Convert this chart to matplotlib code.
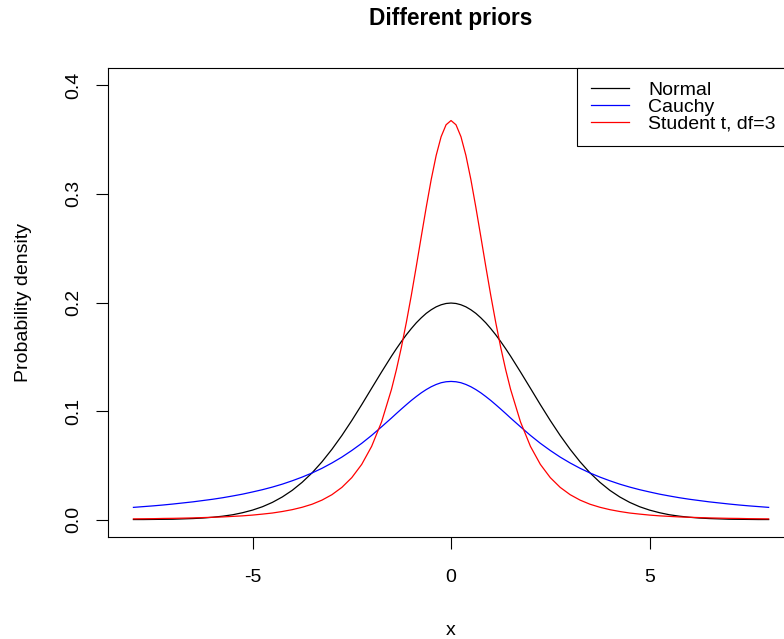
#----------Different priors----------
#Normal, Cauchy and Student t densities

import matplotlib.pyplot as plt

plt.rcParams['font.family'] = ['Liberation Sans', 'DejaVu Sans']

FontSize = 14
TitleSize = 16.3
LineWidth = 0.9

#x points: steps of 0.25 in the tails, 0.125 around the peak
X = [-8, -7.75, -7.5, -7.25, -7, -6.75, -6.5, -6.25, -6, -5.75, -5.5, -5.25,
     -5, -4.75, -4.5, -4.25, -4, -3.75, -3.5, -3.25, -3, -2.75, -2.5, -2.25,
     -2, -1.75, -1.5,
     -1.375, -1.25, -1.125, -1, -0.875, -0.75, -0.625, -0.5, -0.375, -0.25,
     -0.125, 0, 0.125, 0.25, 0.375, 0.5, 0.625, 0.75, 0.875, 1, 1.125, 1.25,
     1.375,
     1.5, 1.75, 2, 2.25, 2.5, 2.75, 3, 3.25, 3.5, 3.75, 4, 4.25, 4.5, 4.75,
     5, 5.25, 5.5, 5.75, 6, 6.25, 6.5, 6.75, 7, 7.25, 7.5, 7.75, 8]

Normal = [0.0001, 0.0001, 0.0002, 0.0003, 0.0004, 0.0007, 0.0010, 0.0015,
          0.0022, 0.0032, 0.0045, 0.0064, 0.0088, 0.0119, 0.0159, 0.0209,
          0.0270, 0.0344, 0.0431, 0.0533, 0.0648, 0.0775, 0.0913, 0.1059,
          0.1210, 0.1360, 0.1506,
          0.1575, 0.1641, 0.1703, 0.1760, 0.1813, 0.1859, 0.1900, 0.1933,
          0.1960, 0.1979, 0.1991, 0.1995, 0.1991, 0.1979, 0.1960, 0.1933,
          0.1900, 0.1859, 0.1813, 0.1760, 0.1703, 0.1641, 0.1575,
          0.1506, 0.1360, 0.1210, 0.1059, 0.0913, 0.0775, 0.0648, 0.0533,
          0.0431, 0.0344, 0.0270, 0.0209, 0.0159, 0.0119, 0.0088, 0.0064,
          0.0045, 0.0032, 0.0022, 0.0015, 0.0010, 0.0007, 0.0004, 0.0003,
          0.0002, 0.0001, 0.0001]

Cauchy = [0.0113, 0.0120, 0.0127, 0.0135, 0.0144, 0.0154, 0.0164, 0.0176,
          0.0188, 0.0202, 0.0218, 0.0235, 0.0255, 0.0276, 0.0300, 0.0327,
          0.0358, 0.0392, 0.0430, 0.0473, 0.0522, 0.0576, 0.0637, 0.0703,
          0.0776, 0.0855, 0.0936,
          0.0978, 0.1019, 0.1059, 0.1098, 0.1134, 0.1168, 0.1198, 0.1224,
          0.1245, 0.1261, 0.1270, 0.1273, 0.1270, 0.1261, 0.1245, 0.1224,
          0.1198, 0.1168, 0.1134, 0.1098, 0.1059, 0.1019, 0.0978,
          0.0936, 0.0855, 0.0776, 0.0703, 0.0637, 0.0576, 0.0522, 0.0473,
          0.0430, 0.0392, 0.0358, 0.0327, 0.0300, 0.0276, 0.0255, 0.0235,
          0.0218, 0.0202, 0.0188, 0.0176, 0.0164, 0.0154, 0.0144, 0.0135,
          0.0127, 0.0120, 0.0113]

StudentT = [0.0007, 0.0008, 0.0009, 0.0011, 0.0012, 0.0014, 0.0016, 0.0019,
            0.0022, 0.0025, 0.0030, 0.0035, 0.0042, 0.0051, 0.0061, 0.0075,
            0.0092, 0.0114, 0.0142, 0.0180, 0.0230, 0.0297, 0.0387, 0.0509,
            0.0675, 0.0900, 0.1200,
            0.1383, 0.1589, 0.1818, 0.2067, 0.2333, 0.2607, 0.2877, 0.3132,
            0.3354, 0.3527, 0.3637, 0.3676, 0.3637, 0.3527, 0.3354, 0.3132,
            0.2877, 0.2607, 0.2333, 0.2067, 0.1818, 0.1589, 0.1383,
            0.1200, 0.0900, 0.0675, 0.0509, 0.0387, 0.0297, 0.0230, 0.0180,
            0.0142, 0.0114, 0.0092, 0.0075, 0.0061, 0.0051, 0.0042, 0.0035,
            0.0030, 0.0025, 0.0022, 0.0019, 0.0016, 0.0014, 0.0012, 0.0011,
            0.0009, 0.0008, 0.0007]

XTicks = [-5, 0, 5]
YTicks = [0.0, 0.1, 0.2, 0.3, 0.4]
YTickLabels = ["0.0", "0.1", "0.2", "0.3", "0.4"]

fig = plt.figure(figsize=(7.84, 6.39), dpi=100)
#R-style box, right edge falls just outside the picture
ax = fig.add_axes([0.1378, 0.1596, 0.875, 0.734])

ax.plot(X, Normal, color="black", lw=LineWidth, label="Normal")
ax.plot(X, Cauchy, color="blue", lw=LineWidth, label="Cauchy")
ax.plot(X, StudentT, color="red", lw=LineWidth, label="Student t, df=3")

ax.set_xlim(-8.64, 8.64)
ax.set_ylim(-0.016, 0.416)
ax.set_xticks(XTicks)
ax.set_xticklabels([str(t) for t in XTicks])
ax.set_yticks(YTicks)
ax.set_yticklabels(YTickLabels, rotation=90, va="center")
ax.tick_params(length=8.5, width=0.8, labelsize=FontSize)
ax.tick_params(axis="x", pad=14.5)
ax.tick_params(axis="y", pad=10)
for s in ax.spines.values():
    s.set_linewidth(0.8)

ax.set_title("Different priors", fontsize=TitleSize, fontweight="bold", pad=31)
ax.set_xlabel("x", fontsize=FontSize, labelpad=26)
ax.set_ylabel("Probability density", fontsize=FontSize, labelpad=24)

leg = ax.legend(loc="upper right", bbox_to_anchor=(0.993, 1), borderaxespad=0,
                fontsize=FontSize, fancybox=False, framealpha=1,
                edgecolor="black", handlelength=1.95, handletextpad=1.0,
                labelspacing=-0.05, borderpad=0.7)
leg.get_frame().set_linewidth(0.8)

fig.savefig("out.png", dpi=100)
